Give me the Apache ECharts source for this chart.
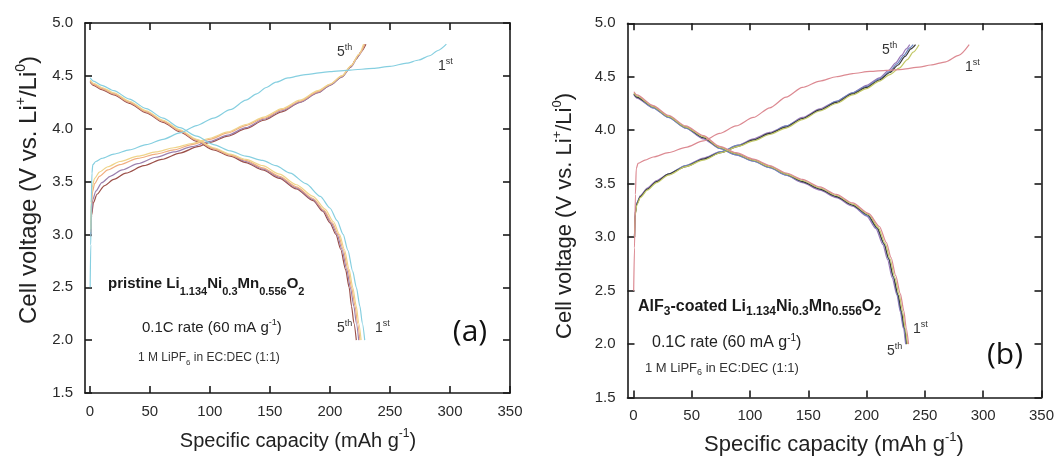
<!DOCTYPE html>
<html><head><meta charset="utf-8">
<script src="https://cdn.jsdelivr.net/npm/echarts@6/dist/echarts.min.js"></script>
<style>html,body{margin:0;padding:0;background:#fff}#c{width:1057px;height:461px}</style>
</head><body><div id="c"></div>
<script>
// ---------- tick labels ----------
const xTicks = [0, 50, 100, 150, 200, 250, 300, 350];
const yTicks = [1.5, 2.0, 2.5, 3.0, 3.5, 4.0, 4.5, 5.0];

// ---------- panel (a): pristine, [capacity mAh/g, voltage V] ----------
const aCycleNames = ['1st', '2nd', '3rd', '4th', '5th'];
const aColors = ['#86cfe0', '#efd48a', '#f1ad7f', '#9c80ae', '#9b4f48'];
const aCharge1 = [[0.3,2.50],[0.8,2.90],[1.2,3.30],[1.8,3.58],[2.5,3.66],[5,3.69],[10,3.72],[20,3.76],[33,3.80],[47,3.85],[61,3.90],[75,3.96],[89,4.03],[103,4.10],[117,4.18],[130,4.27],[139,4.33],[147,4.39],[155,4.44],[165,4.48],[178,4.51],[200,4.54],[217,4.555],[236,4.57],[250,4.59],[264,4.62],[274,4.65],[283,4.69],[290,4.74],[297,4.80]];
const aCharge2 = [[0.8,3.05],[1.2,3.30],[2,3.45],[4,3.53],[8,3.59],[15,3.64],[25,3.69],[40,3.74],[55,3.78],[70,3.82],[85,3.86],[100,3.91],[115,3.97],[130,4.04],[145,4.11],[160,4.19],[175,4.27],[190,4.36],[200,4.42],[210,4.50],[218,4.60],[224,4.70],[228,4.80]];
const aCharge3 = [[0.8,3.02],[1.3,3.25],[2.2,3.40],[4,3.48],[8,3.55],[15,3.61],[25,3.66],[40,3.72],[55,3.76],[70,3.80],[85,3.85],[100,3.90],[115,3.96],[130,4.03],[145,4.10],[160,4.18],[175,4.26],[190,4.35],[200,4.42],[210,4.50],[218,4.60],[224,4.70],[229,4.80]];
const aCharge4 = [[0.8,3.00],[1.4,3.20],[2.5,3.33],[5,3.41],[10,3.49],[17,3.55],[27,3.61],[40,3.67],[55,3.73],[70,3.78],[85,3.83],[100,3.88],[115,3.94],[130,4.01],[145,4.09],[160,4.17],[175,4.25],[190,4.34],[200,4.41],[210,4.49],[218,4.59],[224,4.69],[229,4.80]];
const aCharge5 = [[0.8,2.98],[1.5,3.18],[3,3.30],[6,3.38],[12,3.46],[20,3.52],[30,3.58],[45,3.65],[60,3.71],[75,3.77],[90,3.83],[100,3.87],[115,3.93],[130,4.00],[145,4.08],[160,4.16],[175,4.25],[190,4.34],[200,4.41],[210,4.49],[217,4.58],[222,4.66],[226,4.73],[230,4.80]];
const aDischarge1 = [[0.3,4.48],[3,4.45],[10,4.41],[20,4.36],[33,4.28],[47,4.19],[61,4.10],[75,4.01],[89,3.93],[103,3.85],[117,3.79],[130,3.74],[144,3.70],[155,3.65],[167,3.58],[180,3.48],[192,3.36],[200,3.25],[206,3.13],[211,3.00],[215,2.85],[219,2.65],[222,2.50],[225,2.32],[227,2.16],[229,2.00]];
const aDischarge2 = [[0.3,4.46],[3,4.43],[10,4.39],[20,4.34],[33,4.26],[47,4.17],[61,4.08],[75,3.99],[89,3.90],[103,3.82],[117,3.76],[130,3.71],[144,3.65],[158,3.57],[172,3.47],[186,3.36],[196,3.24],[203,3.12],[208,3.00],[212,2.86],[216,2.67],[219,2.50],[222,2.32],[224,2.16],[226,2.00]];
const aDischarge3 = [[0.3,4.45],[3,4.42],[10,4.38],[20,4.33],[33,4.25],[47,4.16],[61,4.07],[75,3.98],[89,3.89],[103,3.81],[117,3.75],[130,3.70],[144,3.63],[158,3.55],[172,3.45],[186,3.34],[195,3.23],[202,3.11],[207,3.00],[211,2.86],[215,2.67],[218,2.50],[221,2.32],[223,2.16],[225,2.00]];
const aDischarge4 = [[0.3,4.45],[3,4.42],[10,4.38],[20,4.33],[33,4.25],[47,4.16],[61,4.07],[75,3.98],[89,3.89],[103,3.81],[117,3.75],[130,3.69],[144,3.62],[158,3.54],[172,3.44],[186,3.33],[195,3.22],[201,3.11],[206,3.00],[210,2.86],[214,2.67],[217,2.50],[220,2.32],[222,2.16],[224,2.00]];
const aDischarge5 = [[0.3,4.44],[3,4.41],[10,4.37],[20,4.32],[33,4.24],[47,4.15],[61,4.06],[75,3.97],[89,3.88],[103,3.80],[117,3.74],[130,3.68],[144,3.61],[158,3.53],[172,3.43],[186,3.32],[194,3.22],[200,3.11],[205,3.00],[209,2.86],[213,2.67],[216,2.50],[218,2.32],[220,2.16],[222,2.00]];

// ---------- panel (b): AlF3-coated ----------
const bColors = ['#dc8a92', '#c2c866', '#3a3a3a', '#6f86c0', '#9a78b8'];
const bCharge1 = [[0.3,2.50],[1,2.90],[1.8,3.40],[2.5,3.64],[4,3.69],[10,3.72],[17,3.75],[30,3.79],[45,3.84],[60,3.90],[74,3.97],[88,4.04],[103,4.12],[117,4.21],[131,4.31],[145,4.40],[160,4.46],[174,4.50],[188,4.53],[203,4.55],[217,4.56],[231,4.57],[245,4.59],[255,4.61],[268,4.64],[279,4.70],[288,4.80]];
const bCharge2 = [[1,3.00],[1.5,3.20],[3,3.30],[6,3.37],[12,3.44],[20,3.51],[30,3.58],[45,3.66],[60,3.72],[75,3.79],[90,3.85],[103,3.90],[117,3.96],[131,4.02],[145,4.10],[160,4.18],[174,4.25],[188,4.33],[200,4.39],[211,4.46],[220,4.52],[228,4.58],[235,4.66],[240,4.73],[245,4.80]];
const bCharge3 = [[1,3.00],[1.5,3.21],[3,3.31],[6,3.38],[12,3.45],[20,3.52],[30,3.59],[45,3.66],[60,3.73],[75,3.79],[90,3.85],[103,3.91],[117,3.97],[131,4.03],[145,4.11],[160,4.19],[174,4.26],[188,4.34],[200,4.40],[211,4.47],[220,4.54],[227,4.61],[233,4.69],[238,4.76],[242,4.80]];
const bCharge4 = [[1,3.00],[1.5,3.22],[3,3.32],[6,3.38],[12,3.45],[20,3.52],[30,3.59],[45,3.67],[60,3.73],[75,3.80],[90,3.86],[103,3.91],[117,3.97],[131,4.04],[145,4.11],[160,4.19],[174,4.27],[188,4.35],[200,4.41],[211,4.48],[220,4.55],[226,4.62],[232,4.70],[237,4.77],[240,4.80]];
const bCharge5 = [[1,3.00],[1.5,3.22],[3,3.32],[6,3.39],[12,3.46],[20,3.53],[30,3.59],[45,3.67],[60,3.74],[75,3.80],[90,3.86],[103,3.92],[117,3.98],[131,4.04],[145,4.12],[160,4.20],[174,4.27],[188,4.35],[200,4.42],[211,4.49],[219,4.56],[225,4.63],[230,4.70],[234,4.76],[237,4.80]];
const bDischarge1 = [[0.5,4.36],[3,4.33],[17,4.23],[30,4.14],[45,4.04],[60,3.95],[74,3.85],[88,3.79],[103,3.73],[117,3.67],[131,3.60],[145,3.54],[160,3.47],[174,3.40],[188,3.32],[202,3.22],[211,3.10],[217,2.95],[221,2.81],[225,2.64],[229,2.47],[232,2.31],[234,2.15],[236,2.00]];
const bDischarge2 = [[0.5,4.35],[3,4.32],[17,4.22],[30,4.13],[45,4.03],[60,3.94],[74,3.84],[88,3.78],[103,3.72],[117,3.66],[131,3.59],[145,3.53],[160,3.46],[174,3.39],[188,3.31],[202,3.21],[210,3.09],[216,2.94],[220,2.80],[224,2.63],[228,2.46],[231,2.30],[233,2.15],[235,2.00]];
const bDischarge3 = [[0.5,4.34],[3,4.31],[17,4.22],[30,4.13],[45,4.03],[60,3.93],[74,3.84],[88,3.78],[103,3.72],[117,3.66],[131,3.59],[145,3.52],[160,3.45],[174,3.38],[188,3.30],[201,3.21],[209,3.09],[215,2.94],[219,2.80],[223,2.63],[227,2.46],[230,2.30],[232.5,2.15],[234.5,2.00]];
const bDischarge4 = [[0.5,4.34],[3,4.31],[17,4.21],[30,4.12],[45,4.02],[60,3.93],[74,3.83],[88,3.77],[103,3.71],[117,3.65],[131,3.58],[145,3.52],[160,3.45],[174,3.38],[188,3.30],[201,3.20],[209,3.08],[215,2.93],[219,2.79],[223,2.62],[226.5,2.46],[229.5,2.30],[232,2.15],[234,2.00]];
const bDischarge5 = [[0.5,4.33],[3,4.30],[17,4.21],[30,4.12],[45,4.02],[60,3.92],[74,3.83],[88,3.77],[103,3.71],[117,3.65],[131,3.58],[145,3.51],[160,3.44],[174,3.37],[188,3.29],[200,3.20],[208,3.08],[214,2.93],[218,2.79],[222,2.62],[226,2.46],[229,2.30],[231.5,2.15],[233.5,2.00]];

// ---------- build ----------
const FONT = "'Liberation Sans', Arial, Helvetica, sans-serif";
const AX = '#1a1a1a';

function xAxes(grid, min) {
  const base = {
    gridIndex: grid, type: 'value', min: min, max: 350,
    axisLine: { show: true, onZero: false, lineStyle: { color: AX, width: 1.6 } },
    axisTick: { show: true, inside: true, length: 7, customValues: xTicks, lineStyle: { color: AX, width: 1.6 } },
    splitLine: { show: false }
  };
  return [
    Object.assign({}, base, { position: 'bottom',
      axisLabel: { customValues: xTicks, margin: 11, fontSize: 15, color: '#2a2a2a', fontFamily: FONT } }),
    Object.assign({}, base, { position: 'top', axisLabel: { show: false } })
  ];
}
function yAxes(grid) {
  const base = {
    gridIndex: grid, type: 'value', min: 1.5, max: 5.0, interval: 0.5,
    axisLine: { show: true, onZero: false, lineStyle: { color: AX, width: 1.6 } },
    axisTick: { show: true, inside: true, length: 7, lineStyle: { color: AX, width: 1.6 } },
    splitLine: { show: false }
  };
  return [
    Object.assign({}, base, { position: 'left',
      axisLabel: { margin: 12, fontSize: 15, color: '#2a2a2a', fontFamily: FONT, formatter: v => v.toFixed(1) } }),
    Object.assign({}, base, { position: 'right', axisLabel: { show: false } })
  ];
}

function lineSeries(name, data, color, xi, yi) {
  return { type: 'line', name: name, data: data, xAxisIndex: xi, yAxisIndex: yi,
    showSymbol: false, symbol: 'none', smooth: 0.25, smoothMonotone: 'x',
    lineStyle: { color: color, width: 1.2 }, silent: true, animation: false };
}

const aCharges = [aCharge1, aCharge2, aCharge3, aCharge4, aCharge5];
const aDischarges = [aDischarge1, aDischarge2, aDischarge3, aDischarge4, aDischarge5];
const bCharges = [bCharge1, bCharge2, bCharge3, bCharge4, bCharge5];
const bDischarges = [bDischarge1, bDischarge2, bDischarge3, bDischarge4, bDischarge5];

const series = [];
for (let i = aCharges.length - 1; i >= 0; i--) {
  series.push(lineSeries('a charge ' + aCycleNames[i], aCharges[i], aColors[i], 0, 0));
  series.push(lineSeries('a discharge ' + aCycleNames[i], aDischarges[i], aColors[i], 0, 0));
}
for (let i = bCharges.length - 1; i >= 0; i--) {
  series.push(lineSeries('b charge ' + aCycleNames[i], bCharges[i], bColors[i], 2, 2));
  series.push(lineSeries('b discharge ' + aCycleNames[i], bDischarges[i], bColors[i], 2, 2));
}

// rich text helpers
function rich(main, sub, sup, weight, lh, col) {
  return {
    n: { fontSize: main, fontFamily: FONT, fontWeight: weight, fill: col, lineHeight: lh, verticalAlign: 'middle' },
    sub: { fontSize: sub, fontFamily: FONT, fontWeight: weight, fill: col, lineHeight: sub, verticalAlign: 'bottom' },
    sup: { fontSize: sup, fontFamily: FONT, fontWeight: weight, fill: col, lineHeight: sup, verticalAlign: 'top' }
  };
}
function T(x, y, text, r, opts) {
  return Object.assign({ type: 'text', x: x, y: y, silent: true,
    style: { text: text, rich: r, align: 'left', verticalAlign: 'middle', fill: '#222' } }, opts || {});
}
const ordR = rich(14, 9, 9, 'normal', 18, '#333');
const graphics = [
  // axis titles
  T(29, 190, '{n|Cell voltage (V vs. Li}{sup|+}{n|/Li}{sup|0}{n|)}', rich(24, 14, 14, 'normal', 30, '#222'),
    { rotation: Math.PI / 2, style: null }),
  T(298, 441, '{n|Specific capacity (mAh g}{sup|-1}{n|)}', rich(20, 12, 12, 'normal', 26, '#222')),
  T(565, 216, '{n|Cell voltage (V vs. Li}{sup|+}{n|/Li}{sup|0}{n|)}', rich(22, 13, 13, 'normal', 28, '#222'),
    { rotation: Math.PI / 2, style: null }),
  T(834, 445, '{n|Specific capacity (mAh g}{sup|-1}{n|)}', rich(22, 13, 13, 'normal', 28, '#222')),
  // panel (a)
  T(337, 52, '{n|5}{sup|th}', ordR),
  T(438, 66, '{n|1}{sup|st}', ordR),
  T(337, 328, '{n|5}{sup|th}', ordR),
  T(375, 328, '{n|1}{sup|st}', ordR),
  T(108, 284, '{n|pristine Li}{sub|1.134}{n|Ni}{sub|0.3}{n|Mn}{sub|0.556}{n|O}{sub|2}', rich(15, 11, 9, 'bold', 26, '#1a1a1a')),
  T(142, 328, '{n|0.1C rate (60 mA g}{sup|-1}{n|)}', rich(15, 9, 9, 'normal', 20, '#222')),
  T(138, 358, '{n|1 M LiPF}{sub|6}{n| in EC:DEC (1:1)}', rich(12, 8, 8, 'normal', 18, '#333')),
  T(470, 332, '(a)', null),
  // panel (b)
  T(882, 50, '{n|5}{sup|th}', ordR),
  T(965, 67, '{n|1}{sup|st}', ordR),
  T(913, 329, '{n|1}{sup|st}', ordR),
  T(887, 351, '{n|5}{sup|th}', ordR),
  T(638, 307, '{n|AlF}{sub|3}{n|-coated Li}{sub|1.134}{n|Ni}{sub|0.3}{n|Mn}{sub|0.556}{n|O}{sub|2}', rich(16, 12, 9, 'bold', 22, '#1a1a1a')),
  T(652, 343, '{n|0.1C rate (60 mA g}{sup|-1}{n|)}', rich(16, 10, 10, 'normal', 20, '#222')),
  T(645, 368, '{n|1 M LiPF}{sub|6}{n| in EC:DEC (1:1)}', rich(13, 9, 9, 'normal', 19, '#333')),
  T(1005, 355, '(b)', null)
];
// fix rotated titles (restore style) and big panel letters
graphics.forEach((g, i) => {
  if (g.style === null) {
    const src = [
      ['{n|Cell voltage (V vs. Li}{sup|+}{n|/Li}{sup|0}{n|)}', rich(24, 14, 14, 'normal', 30, '#222')],
      ['{n|Cell voltage (V vs. Li}{sup|+}{n|/Li}{sup|0}{n|)}', rich(22, 13, 13, 'normal', 28, '#222')]
    ][i === 0 ? 0 : 1];
    g.style = { text: src[0], rich: src[1], align: 'center', verticalAlign: 'middle', fill: '#222' };
  }
  if (g.style.text === '(a)' || g.style.text === '(b)') {
    g.style = { text: g.style.text, align: 'center', verticalAlign: 'middle', fill: '#111',
      font: "30px 'Open Sans', 'Noto Sans', sans-serif" };
  }
  if (g.x === 298 || g.x === 834) { g.style.align = 'center'; }
});

const option = {
  backgroundColor: '#ffffff',
  animation: false,
  grid: [
    { left: 85, top: 23, width: 425, height: 370 },
    { left: 627.5, top: 23.3, width: 415.2, height: 374.3 }
  ],
  xAxis: xAxes(0, -4).concat(xAxes(1, -5)),
  yAxis: yAxes(0).concat(yAxes(1)),
  series: series,
  graphic: graphics
};

const chart = echarts.init(document.getElementById('c'), null, { renderer: 'canvas' });
chart.setOption(option);
</script>
</body></html>
